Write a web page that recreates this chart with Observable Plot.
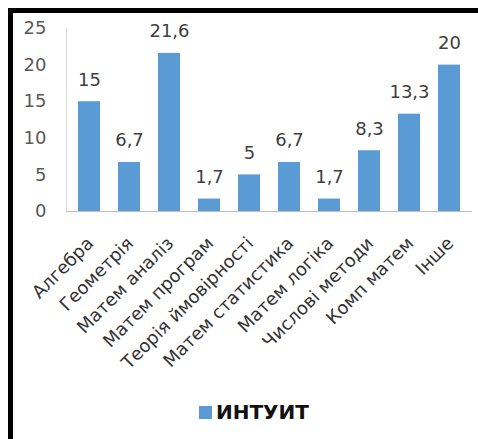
<!DOCTYPE html>
<html>
<head>
<meta charset="utf-8">
<script src="https://cdn.jsdelivr.net/npm/d3@7"></script>
<script src="https://cdn.jsdelivr.net/npm/@observablehq/plot@0.6"></script>
<style>
  html, body { margin: 0; padding: 0; background: #fff; width: 478px; height: 439px; overflow: hidden; position: relative; }
  #border { position: absolute; left: 8px; top: 8px; width: 600px; height: 600px; border-left: 5px solid #000; border-top: 5px solid #000; box-sizing: border-box; }
  #chart { position: absolute; left: 0; top: 0; }
  #legend-swatch { position: absolute; left: 199px; top: 406px; width: 13px; height: 13px; background: #5b9bd5; }
  #legend-text { position: absolute; left: 216px; top: 402px; font-family: "DejaVu Sans", sans-serif; font-weight: bold; font-size: 20px; line-height: 20px; color: #111; }
</style>
</head>
<body>
<div id="border"></div>
<div id="chart"></div>
<div id="legend-swatch"></div>
<div id="legend-text">ИНТУИТ</div>
<script>
const categories = ["Алгебра", "Геометрія", "Матем аналіз", "Матем програм", "Теорія ймовірності", "Матем статистика", "Матем логіка", "Числові методи", "Комп матем", "Інше"];
const values = [15, 6.7, 21.6, 1.7, 5, 6.7, 1.7, 8.3, 13.3, 20];
const yTicks = [0, 5, 10, 15, 20, 25];
const seriesName = "ИНТУИТ";

const data = categories.map((c, i) => ({cat: c, val: values[i]}));
const fmt = v => String(v).replace(".", ",");

const chart = Plot.plot({
  width: 478,
  height: 390,
  marginLeft: 66,
  marginRight: 6,
  marginTop: 28,
  marginBottom: 179,
  style: {fontFamily: "DejaVu Sans, sans-serif", fontSize: "18px", background: "transparent"},
  x: {domain: categories, paddingInner: 0.45, paddingOuter: 0.25, axis: null},
  y: {domain: [0, 25], axis: null},
  marks: [
    Plot.frame({anchor: "left", stroke: "#d9d9d9"}),
    Plot.barY(data, {x: "cat", y: "val", fill: "#5b9bd5"}),
    Plot.ruleY([0], {stroke: "#bfbfbf", strokeWidth: 1.2}),
    Plot.axisY({ticks: yTicks, tickSize: 0, tickPadding: 20, label: null, color: "#595959", fontSize: 18}),
    Plot.text(data, {x: "cat", y: "val", text: d => fmt(d.val), lineAnchor: "bottom", dy: -16, fill: "#404040", fontSize: 18}),
    Plot.text(data, {x: "cat", frameAnchor: "bottom", text: "cat", rotate: -45, textAnchor: "end", lineAnchor: "bottom", dx: 5, dy: 33, fill: "#333333", fontSize: 18})
  ]
});
document.getElementById("chart").appendChild(chart);
</script>
</body>
</html>
